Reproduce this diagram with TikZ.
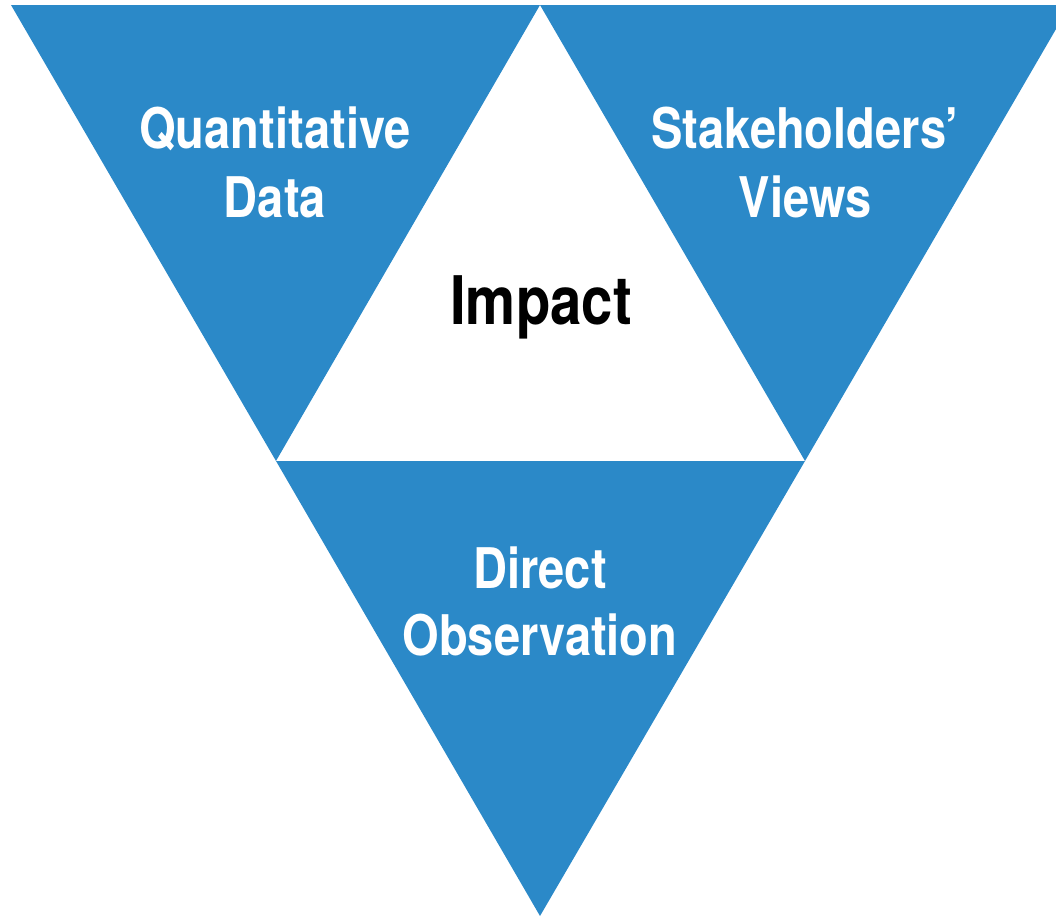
\documentclass[tikz,border=0pt]{standalone}
\usepackage{fontspec}
\newfontfamily\labelfont[FakeStretch=0.84]{TeX Gyre Heros}
\definecolor{triblue}{HTML}{2B89C8}
\begin{document}
\begin{tikzpicture}[x=1pt,y=-1pt,
  lbl/.style={anchor=base,inner sep=0pt,font=\labelfont\bfseries\fontsize{56}{60}\selectfont},
  wlbl/.style={lbl,text=white},
  biglbl/.style={lbl,font=\labelfont\bfseries\fontsize{67}{70}\selectfont},
  tri/.style={fill=triblue}]
\useasboundingbox (0,0) rectangle (1056,918);
\clip (0,0) rectangle (1056,918);
\coordinate (tl) at (11,5);
\coordinate (tm) at (540,5);
\coordinate (tr) at (1070,5);
\coordinate (ml) at (276,461);
\coordinate (mr) at (805,461);
\coordinate (bt) at (540,916);
\fill[tri] (tl) -- (tm) -- (ml) -- cycle;
\fill[tri] (tm) -- (tr) -- (mr) -- cycle;
\fill[tri] (ml) -- (mr) -- (bt) -- cycle;
\node[wlbl] (q1) at (275,148) {Quantitative};
\node[wlbl] (q2) at (275,217) {Data};
\node[wlbl] (s1) at (805,148) {Stakeholders’};
\node[wlbl] (s2) at (805,217) {Views};
\node[biglbl] (im) at (541,324) {Impact};
\node[wlbl] (d1) at (540,588) {Direct};
\node[wlbl] (d2) at (540,655) {Observation};
\end{tikzpicture}
\end{document}
